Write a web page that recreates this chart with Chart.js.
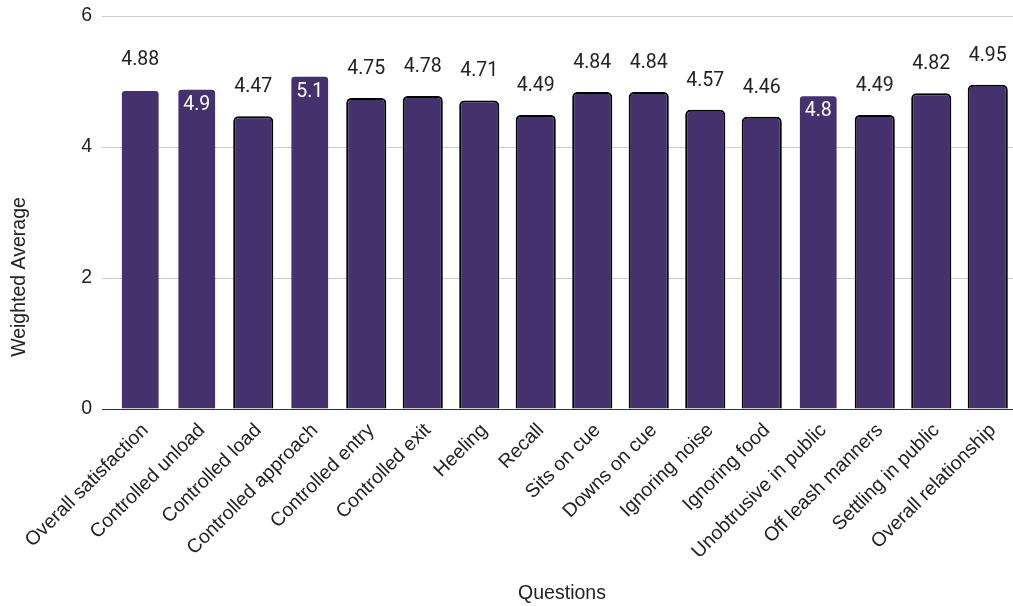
<!DOCTYPE html>
<html>
<head>
<meta charset="utf-8">
<script src="https://cdn.jsdelivr.net/npm/chart.js@4/dist/chart.umd.min.js"></script>
<style>
  html, body { margin: 0; padding: 0; background: #ffffff; overflow: hidden; }
  #wrap { position: relative; width: 1017px; height: 606px; }
</style>
</head>
<body>
<div id="wrap"><canvas id="c"></canvas></div>
<script>
// ---- data ----
const categories = [
  "Overall satisfaction", "Controlled unload", "Controlled load", "Controlled approach",
  "Controlled entry", "Controlled exit", "Heeling", "Recall", "Sits on cue", "Downs on cue",
  "Ignoring noise", "Ignoring food", "Unobtrusive in public", "Off leash manners",
  "Settling in public", "Overall relationship"
];
const weightedAverage = [4.88, 4.9, 4.47, 5.1, 4.75, 4.78, 4.71, 4.49, 4.84, 4.84, 4.57, 4.46, 4.8, 4.49, 4.82, 4.95];
const yTicks = [0, 2, 4, 6];
const xTitle = "Questions";
const yTitle = "Weighted Average";

// ---- styling (not data) ----
const barFill = "#46316f";
const noOutline = [0, 1, 3, 12];      // bars drawn without black outline
const labelInsideBars = [1, 3, 12];   // bars whose value label sits inside (white)
const textFont = "'Liberation Sans', Arial, sans-serif";
const labelFont = "Roboto, 'Liberation Sans', sans-serif";
const fontSize = 19.5;

const valueLabels = {
  id: 'valueLabels',
  afterDatasetsDraw(chart) {
    const ctx = chart.ctx;
    const meta = chart.getDatasetMeta(0);
    ctx.save();
    ctx.font = fontSize + "px " + labelFont;
    ctx.textAlign = 'center';
    ctx.textBaseline = 'middle';
    meta.data.forEach((bar, i) => {
      const v = weightedAverage[i];
      const yTop = chart.scales.y.getPixelForValue(v);
      if (labelInsideBars.includes(i)) {
        ctx.fillStyle = '#ffffff';
        ctx.fillText(String(v), bar.x, yTop + 17);
      } else {
        ctx.fillStyle = '#222222';
        ctx.fillText(String(v), bar.x, yTop - 29);
      }
    });
    ctx.restore();
  }
};

const axisTitles = {
  id: 'axisTitles',
  afterDraw(chart) {
    const ctx = chart.ctx;
    const a = chart.chartArea;
    ctx.save();
    ctx.font = fontSize + "px " + textFont;
    ctx.fillStyle = '#222222';
    ctx.textAlign = 'center';
    ctx.textBaseline = 'middle';
    ctx.fillText(xTitle, (a.left + a.right) / 2 - 2, chart.height - 12);
    ctx.translate(20, (chart.height - 52) / 2);
    ctx.rotate(-Math.PI / 2);
    ctx.fillText(yTitle, 0, 0);
    ctx.restore();
  }
};

new Chart(document.getElementById('c'), {
  type: 'bar',
  data: {
    labels: categories,
    datasets: [{
      label: yTitle,
      data: weightedAverage,
      backgroundColor: barFill,
      borderColor: categories.map((_, i) => noOutline.includes(i) ? 'rgba(0,0,0,0)' : '#000000'),
      borderWidth: categories.map((_, i) => noOutline.includes(i) ? 1.7 : 2),
      borderSkipped: 'bottom',
      borderRadius: { topLeft: 5, topRight: 5, bottomLeft: 0, bottomRight: 0 },
      categoryPercentage: 1,
      barPercentage: 0.71
    }]
  },
  options: {
    responsive: true,
    maintainAspectRatio: false,
    devicePixelRatio: 1,
    animation: false,
    layout: { padding: { top: 16, right: 1, left: 0, bottom: 0 } },
    plugins: { legend: { display: false }, tooltip: { enabled: false } },
    scales: {
      x: {
        offset: true,
        grid: { display: false },
        border: { display: true, color: '#333333', width: 1 },
        ticks: {
          color: '#222222',
          font: { size: fontSize, family: textFont },
          minRotation: 45, maxRotation: 45,
          padding: 2,
          labelOffset: 5,
          autoSkip: false
        },
        afterFit(scale) { scale.height = 197; scale.paddingLeft = 0; scale.paddingRight = 0; }
      },
      y: {
        min: 0, max: 6,
        afterBuildTicks(scale) { scale.ticks = yTicks.map(v => ({ value: v })); },
        grid: {
          color: ctx => ctx.tick && ctx.tick.value === 0 ? '#333333' : '#cccccc',
          tickColor: ctx => ctx.tick && ctx.tick.value === 0 ? '#333333' : '#cccccc',
          drawTicks: true,
          tickLength: 10,
          lineWidth: 1
        },
        border: { display: false },
        ticks: {
          color: '#222222',
          font: { size: fontSize, family: textFont },
          padding: 10
        },
        afterFit(scale) { scale.width = 112; scale.paddingTop = 0; scale.paddingBottom = 0; }
      }
    }
  },
  plugins: [valueLabels, axisTitles]
});
</script>
</body>
</html>
